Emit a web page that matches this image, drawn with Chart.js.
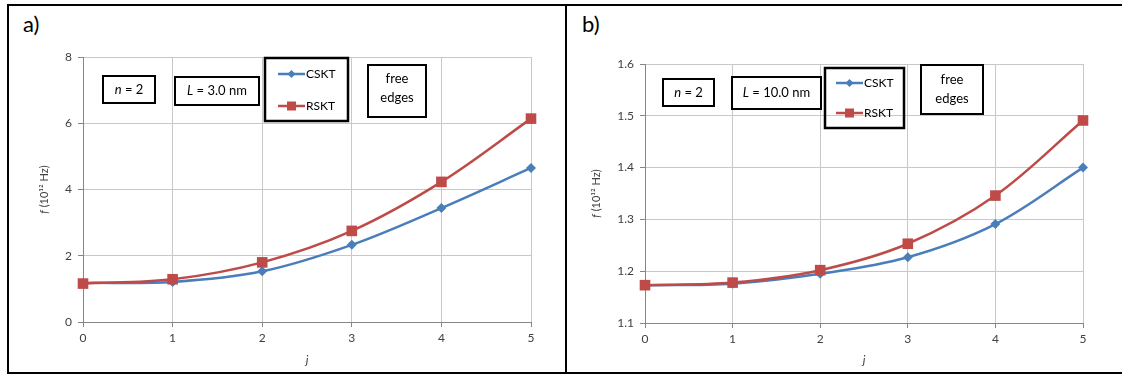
<!DOCTYPE html>
<html>
<head>
<meta charset="utf-8">
<script src="https://cdn.jsdelivr.net/npm/chart.js@4.4.1/dist/chart.umd.min.js"></script>
<style>
  body { margin: 0; width: 1122px; height: 374px; overflow: hidden; background: #fff; font-family: Lato, sans-serif; }
  .frame { position: absolute; left: 7px; top: 4px; width: 1200px; height: 366px; border: 2px solid #000; }
  .divider { position: absolute; left: 565px; top: 4px; width: 2px; height: 370px; background: #000; }
  .tag { position: absolute; font-size: 22px; line-height: 22px; color: #000; }
  canvas { position: absolute; }
</style>
</head>
<body>
<div class="frame"></div>
<div class="divider"></div>
<div class="tag" style="left:23px; top:13px">a)</div>
<div class="tag" style="left:582px; top:13px">b)</div>
<canvas id="chartA" width="556" height="366" style="left:9px; top:6px"></canvas>
<canvas id="chartB" width="554" height="366" style="left:568px; top:6px"></canvas>
<script>
const jValues = [0, 1, 2, 3, 4, 5];
const csktA = [1.18, 1.21, 1.53, 2.33, 3.44, 4.65];
const rsktA = [1.16, 1.29, 1.80, 2.75, 4.23, 6.14];
const csktB = [1.173, 1.176, 1.195, 1.227, 1.291, 1.400];
const rsktB = [1.173, 1.178, 1.202, 1.253, 1.346, 1.491];
const yTicksA = [0, 2, 4, 6, 8];
const yTicksB = [1.1, 1.2, 1.3, 1.4, 1.5, 1.6];
const seriesNames = ['CSKT', 'RSKT'];

const blue = '#4a7ebb';
const red = '#be4b48';

Chart.defaults.font.family = 'Lato, sans-serif';
Chart.defaults.color = '#404040';

// text made of parts, some italic, centred on cx
function drawMixed(ctx, parts, cx, cy, size) {
    let total = 0;
    parts.forEach(p => {
        ctx.font = (p.i ? 'italic ' : '') + size + 'px Lato';
        p.w = ctx.measureText(p.t).width;
        total += p.w;
    });
    let x = cx - total / 2;
    ctx.textAlign = 'left';
    parts.forEach(p => {
        ctx.font = (p.i ? 'italic ' : '') + size + 'px Lato';
        ctx.fillText(p.t, x, cy);
        x += p.w;
    });
}

function drawMarker(ctx, style, color, x, y) {
    ctx.fillStyle = color;
    ctx.beginPath();
    if (style === 'square') {
        ctx.rect(x - 4.5, y - 4.5, 9, 9);
    } else {
        ctx.moveTo(x - 4, y); ctx.lineTo(x, y - 4);
        ctx.lineTo(x + 4, y); ctx.lineTo(x, y + 4);
        ctx.closePath();
    }
    ctx.fill();
}

const boxPlugin = {
    id: 'boxes',
    afterDraw(chart, args, opts) {
        const ctx = chart.ctx;
        const area = chart.chartArea;
        ctx.save();
        ctx.textBaseline = 'middle';

        // y axis title with italic f
        ctx.save();
        ctx.translate(opts.yTitleX, (area.top + area.bottom) / 2);
        ctx.rotate(-Math.PI / 2);
        ctx.fillStyle = '#404040';
        drawMixed(ctx, [{ t: 'f', i: true }, { t: ' (10¹² Hz)' }], 0, 0, 11);
        ctx.restore();

        opts.items.forEach(b => {
            ctx.lineWidth = b.lw || 2;
            ctx.strokeStyle = '#000';
            ctx.strokeRect(b.x, b.y, b.w, b.h);
            (b.lines || []).forEach(l => {
                ctx.fillStyle = '#000';
                drawMixed(ctx, l.parts, b.x + b.w / 2, l.y, 13);
            });
            (b.legend || []).forEach(l => {
                ctx.strokeStyle = l.color;
                ctx.lineWidth = 2.5;
                ctx.beginPath();
                ctx.moveTo(l.x1, l.y); ctx.lineTo(l.x2, l.y);
                ctx.stroke();
                drawMarker(ctx, l.style, l.color, (l.x1 + l.x2) / 2, l.y);
                ctx.fillStyle = '#000';
                ctx.textAlign = 'left';
                ctx.font = '12px Lato';
                ctx.fillText(l.label, l.x2 + 1, l.y);
            });
        });
        ctx.restore();
    }
};

function makeChart(id, cskt, rskt, yTicks, yMin, yMax, decimals, pad, yWidth, xHeight, yTitleX, boxes) {
    const ctx = document.getElementById(id).getContext('2d');
    return new Chart(ctx, {
        type: 'line',
        data: {
            datasets: [{
                label: seriesNames[0],
                data: jValues.map((j, i) => ({ x: j, y: cskt[i] })),
                borderColor: blue,
                backgroundColor: blue,
                borderWidth: 2.5,
                pointStyle: 'rectRot',
                pointRadius: 5,
                pointBorderWidth: 0,
                tension: 0.35,
                clip: false,
                order: 1
            }, {
                label: seriesNames[1],
                data: jValues.map((j, i) => ({ x: j, y: rskt[i] })),
                borderColor: red,
                backgroundColor: red,
                borderWidth: 2.5,
                pointStyle: 'rect',
                pointRadius: 7.5,
                pointBorderWidth: 0,
                tension: 0.35,
                clip: false,
                order: 0
            }]
        },
        options: {
            responsive: false,
            animation: false,
            layout: { padding: pad },
            plugins: {
                legend: { display: false },
                tooltip: { enabled: false },
                boxes: { items: boxes, yTitleX: yTitleX }
            },
            scales: {
                x: {
                    type: 'linear',
                    min: 0,
                    max: 5,
                    ticks: { stepSize: 1, padding: 4, font: { size: 12 } },
                    grid: { color: '#c8c8c8', tickColor: '#868686', tickLength: 5 },
                    border: { color: '#868686' },
                    title: { display: true, text: 'j', font: { size: 12, style: 'italic' }, color: '#404040', padding: { top: 0, bottom: 5 } },
                    afterFit: s => { s.height = xHeight; }
                },
                y: {
                    min: yMin,
                    max: yMax,
                    afterBuildTicks: s => { s.ticks = yTicks.map(v => ({ value: v })); },
                    ticks: { padding: 6, font: { size: 12 }, callback: v => v.toFixed(decimals) },
                    grid: { color: '#c8c8c8', tickColor: '#868686', tickLength: 5 },
                    border: { color: '#868686' },
                    afterFit: s => { s.width = yWidth; }
                }
            }
        },
        plugins: [boxPlugin]
    });
}

makeChart('chartA', csktA, rsktA, yTicksA, 0, 8, 0,
    { left: 0, right: 34, top: 51, bottom: 0 }, 74, 50, 35, [
        { x: 94, y: 70, w: 52, h: 27, lines: [{ y: 84, parts: [{ t: 'n', i: true }, { t: ' = 2' }] }] },
        { x: 166, y: 71, w: 84, h: 28, lines: [{ y: 85, parts: [{ t: 'L', i: true }, { t: ' = 3.0 nm' }] }] },
        { x: 256, y: 52, w: 83, h: 63, lw: 2.5, legend: [
            { x1: 269, x2: 296, y: 68, color: blue, style: 'diamond', label: 'CSKT' },
            { x1: 269, x2: 296, y: 100, color: red, style: 'square', label: 'RSKT' }
        ] },
        { x: 359, y: 59, w: 58, h: 52, lines: [{ y: 73, parts: [{ t: 'free' }] }, { y: 92, parts: [{ t: 'edges' }] }] }
    ]);

makeChart('chartB', csktB, rsktB, yTicksB, 1.1, 1.6, 1,
    { left: 0, right: 39, top: 58, bottom: 0 }, 77, 49, 28, [
        { x: 95, y: 73, w: 51, h: 27, lines: [{ y: 87, parts: [{ t: 'n', i: true }, { t: ' = 2' }] }] },
        { x: 164, y: 71, w: 89, h: 32, lines: [{ y: 87, parts: [{ t: 'L', i: true }, { t: ' = 10.0 nm' }] }] },
        { x: 257, y: 62, w: 79, h: 60, lw: 2.5, legend: [
            { x1: 268, x2: 295, y: 77, color: blue, style: 'diamond', label: 'CSKT' },
            { x1: 268, x2: 295, y: 107, color: red, style: 'square', label: 'RSKT' }
        ] },
        { x: 353, y: 59, w: 62, h: 49, lines: [{ y: 74, parts: [{ t: 'free' }] }, { y: 93, parts: [{ t: 'edges' }] }] }
    ]);
</script>
</body>
</html>
